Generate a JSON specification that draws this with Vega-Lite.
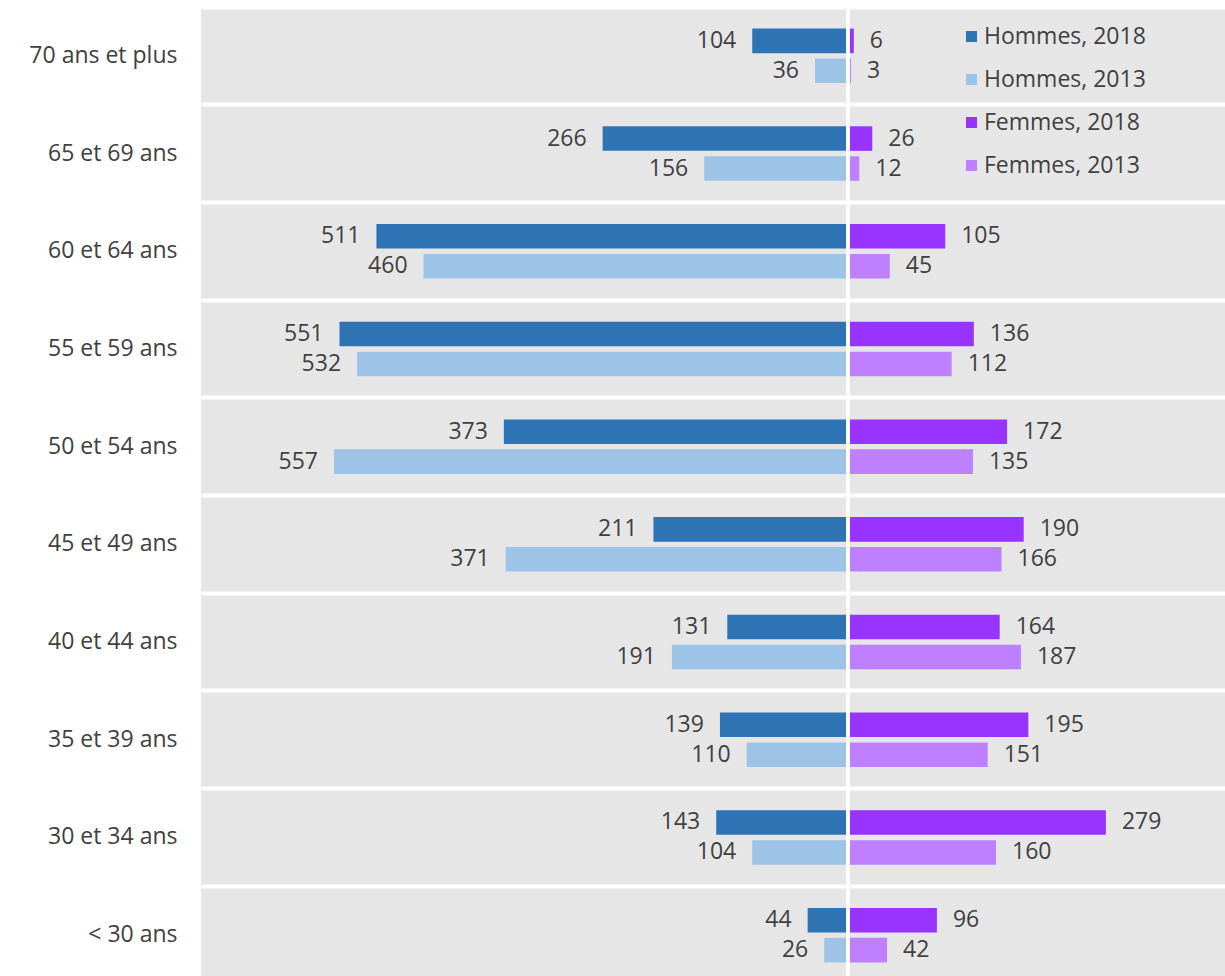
{
  "$schema": "https://vega.github.io/schema/vega-lite/v6.json",
  "width": 1024,
  "height": 969,
  "autosize": {"type": "none"},
  "padding": {"left": 201, "top": 7, "right": 0, "bottom": 0},
  "background": "white",
  "config": {
    "view": {"fill": "#e6e6e6", "stroke": null},
    "font": "Open Sans",
    "text": {"font": "Open Sans"}
  },
  "data": {
    "values": [
      {"age": "70 ans et plus", "sexe": "Hommes", "annee": "2018", "serie": "Hommes, 2018", "valeur": 104},
      {"age": "70 ans et plus", "sexe": "Hommes", "annee": "2013", "serie": "Hommes, 2013", "valeur": 36},
      {"age": "70 ans et plus", "sexe": "Femmes", "annee": "2018", "serie": "Femmes, 2018", "valeur": 6},
      {"age": "70 ans et plus", "sexe": "Femmes", "annee": "2013", "serie": "Femmes, 2013", "valeur": 3},
      {"age": "65 et 69 ans", "sexe": "Hommes", "annee": "2018", "serie": "Hommes, 2018", "valeur": 266},
      {"age": "65 et 69 ans", "sexe": "Hommes", "annee": "2013", "serie": "Hommes, 2013", "valeur": 156},
      {"age": "65 et 69 ans", "sexe": "Femmes", "annee": "2018", "serie": "Femmes, 2018", "valeur": 26},
      {"age": "65 et 69 ans", "sexe": "Femmes", "annee": "2013", "serie": "Femmes, 2013", "valeur": 12},
      {"age": "60 et 64 ans", "sexe": "Hommes", "annee": "2018", "serie": "Hommes, 2018", "valeur": 511},
      {"age": "60 et 64 ans", "sexe": "Hommes", "annee": "2013", "serie": "Hommes, 2013", "valeur": 460},
      {"age": "60 et 64 ans", "sexe": "Femmes", "annee": "2018", "serie": "Femmes, 2018", "valeur": 105},
      {"age": "60 et 64 ans", "sexe": "Femmes", "annee": "2013", "serie": "Femmes, 2013", "valeur": 45},
      {"age": "55 et 59 ans", "sexe": "Hommes", "annee": "2018", "serie": "Hommes, 2018", "valeur": 551},
      {"age": "55 et 59 ans", "sexe": "Hommes", "annee": "2013", "serie": "Hommes, 2013", "valeur": 532},
      {"age": "55 et 59 ans", "sexe": "Femmes", "annee": "2018", "serie": "Femmes, 2018", "valeur": 136},
      {"age": "55 et 59 ans", "sexe": "Femmes", "annee": "2013", "serie": "Femmes, 2013", "valeur": 112},
      {"age": "50 et 54 ans", "sexe": "Hommes", "annee": "2018", "serie": "Hommes, 2018", "valeur": 373},
      {"age": "50 et 54 ans", "sexe": "Hommes", "annee": "2013", "serie": "Hommes, 2013", "valeur": 557},
      {"age": "50 et 54 ans", "sexe": "Femmes", "annee": "2018", "serie": "Femmes, 2018", "valeur": 172},
      {"age": "50 et 54 ans", "sexe": "Femmes", "annee": "2013", "serie": "Femmes, 2013", "valeur": 135},
      {"age": "45 et 49 ans", "sexe": "Hommes", "annee": "2018", "serie": "Hommes, 2018", "valeur": 211},
      {"age": "45 et 49 ans", "sexe": "Hommes", "annee": "2013", "serie": "Hommes, 2013", "valeur": 371},
      {"age": "45 et 49 ans", "sexe": "Femmes", "annee": "2018", "serie": "Femmes, 2018", "valeur": 190},
      {"age": "45 et 49 ans", "sexe": "Femmes", "annee": "2013", "serie": "Femmes, 2013", "valeur": 166},
      {"age": "40 et 44 ans", "sexe": "Hommes", "annee": "2018", "serie": "Hommes, 2018", "valeur": 131},
      {"age": "40 et 44 ans", "sexe": "Hommes", "annee": "2013", "serie": "Hommes, 2013", "valeur": 191},
      {"age": "40 et 44 ans", "sexe": "Femmes", "annee": "2018", "serie": "Femmes, 2018", "valeur": 164},
      {"age": "40 et 44 ans", "sexe": "Femmes", "annee": "2013", "serie": "Femmes, 2013", "valeur": 187},
      {"age": "35 et 39 ans", "sexe": "Hommes", "annee": "2018", "serie": "Hommes, 2018", "valeur": 139},
      {"age": "35 et 39 ans", "sexe": "Hommes", "annee": "2013", "serie": "Hommes, 2013", "valeur": 110},
      {"age": "35 et 39 ans", "sexe": "Femmes", "annee": "2018", "serie": "Femmes, 2018", "valeur": 195},
      {"age": "35 et 39 ans", "sexe": "Femmes", "annee": "2013", "serie": "Femmes, 2013", "valeur": 151},
      {"age": "30 et 34 ans", "sexe": "Hommes", "annee": "2018", "serie": "Hommes, 2018", "valeur": 143},
      {"age": "30 et 34 ans", "sexe": "Hommes", "annee": "2013", "serie": "Hommes, 2013", "valeur": 104},
      {"age": "30 et 34 ans", "sexe": "Femmes", "annee": "2018", "serie": "Femmes, 2018", "valeur": 279},
      {"age": "30 et 34 ans", "sexe": "Femmes", "annee": "2013", "serie": "Femmes, 2013", "valeur": 160},
      {"age": "< 30 ans", "sexe": "Hommes", "annee": "2018", "serie": "Hommes, 2018", "valeur": 44},
      {"age": "< 30 ans", "sexe": "Hommes", "annee": "2013", "serie": "Hommes, 2013", "valeur": 26},
      {"age": "< 30 ans", "sexe": "Femmes", "annee": "2018", "serie": "Femmes, 2018", "valeur": 96},
      {"age": "< 30 ans", "sexe": "Femmes", "annee": "2013", "serie": "Femmes, 2013", "valeur": 42}
    ]
  },
  "transform": [
    {"calculate": "datum.sexe == 'Hommes' ? -datum.valeur : datum.valeur", "as": "position"}
  ],
  "encoding": {
    "y": {
      "field": "age",
      "type": "nominal",
      "sort": ["70 ans et plus", "65 et 69 ans", "60 et 64 ans", "55 et 59 ans", "50 et 54 ans", "45 et 49 ans", "40 et 44 ans", "35 et 39 ans", "30 et 34 ans", "< 30 ans"],
      "scale": {"range": [0, 977], "paddingInner": 0, "paddingOuter": 0},
      "axis": {
        "title": null,
        "domain": false,
        "ticks": false,
        "labelFontSize": 23,
        "labelColor": "#404040",
        "labelPadding": 24,
        "labelFont": "Open Sans",
        "grid": true,
        "gridColor": "white",
        "gridWidth": 4,
        "bandPosition": 0
      }
    },
    "yOffset": {
      "field": "annee",
      "type": "nominal",
      "sort": ["2018", "2013"],
      "scale": {"paddingInner": 0.18, "paddingOuter": 0.72}
    },
    "x": {
      "field": "position",
      "type": "quantitative",
      "scale": {"domain": [-701, 408], "nice": false, "zero": false},
      "axis": null
    }
  },
  "layer": [
    {
      "mark": {"type": "bar"},
      "encoding": {
        "color": {
          "field": "serie",
          "type": "nominal",
          "scale": {
            "domain": ["Hommes, 2018", "Hommes, 2013", "Femmes, 2018", "Femmes, 2013"],
            "range": ["#2e74b5", "#9dc3e6", "#9933ff", "#bf80ff"]
          },
          "legend": {
            "orient": "none",
            "legendX": 759,
            "legendY": 18,
            "title": null,
            "symbolType": "square",
            "symbolSize": 121,
            "symbolStrokeWidth": 0,
            "labelFontSize": 23,
            "labelFont": "Open Sans",
            "labelColor": "#404040",
            "labelOffset": 1,
            "labelLimit": 400,
            "rowPadding": 19,
            "padding": 0
          }
        }
      }
    },
    {
      "transform": [{"filter": "datum.sexe == 'Hommes'"}],
      "mark": {"type": "text", "align": "right", "baseline": "middle", "dx": -16, "fontSize": 23, "color": "#404040"},
      "encoding": {"text": {"field": "valeur", "type": "quantitative"}}
    },
    {
      "transform": [{"filter": "datum.sexe == 'Femmes'"}],
      "mark": {"type": "text", "align": "left", "baseline": "middle", "dx": 16, "fontSize": 23, "color": "#404040"},
      "encoding": {"text": {"field": "valeur", "type": "quantitative"}}
    },
    {
      "mark": {"type": "rule", "color": "white", "strokeWidth": 3},
      "encoding": {"x": {"datum": 0}, "y": null, "yOffset": null}
    }
  ]
}
